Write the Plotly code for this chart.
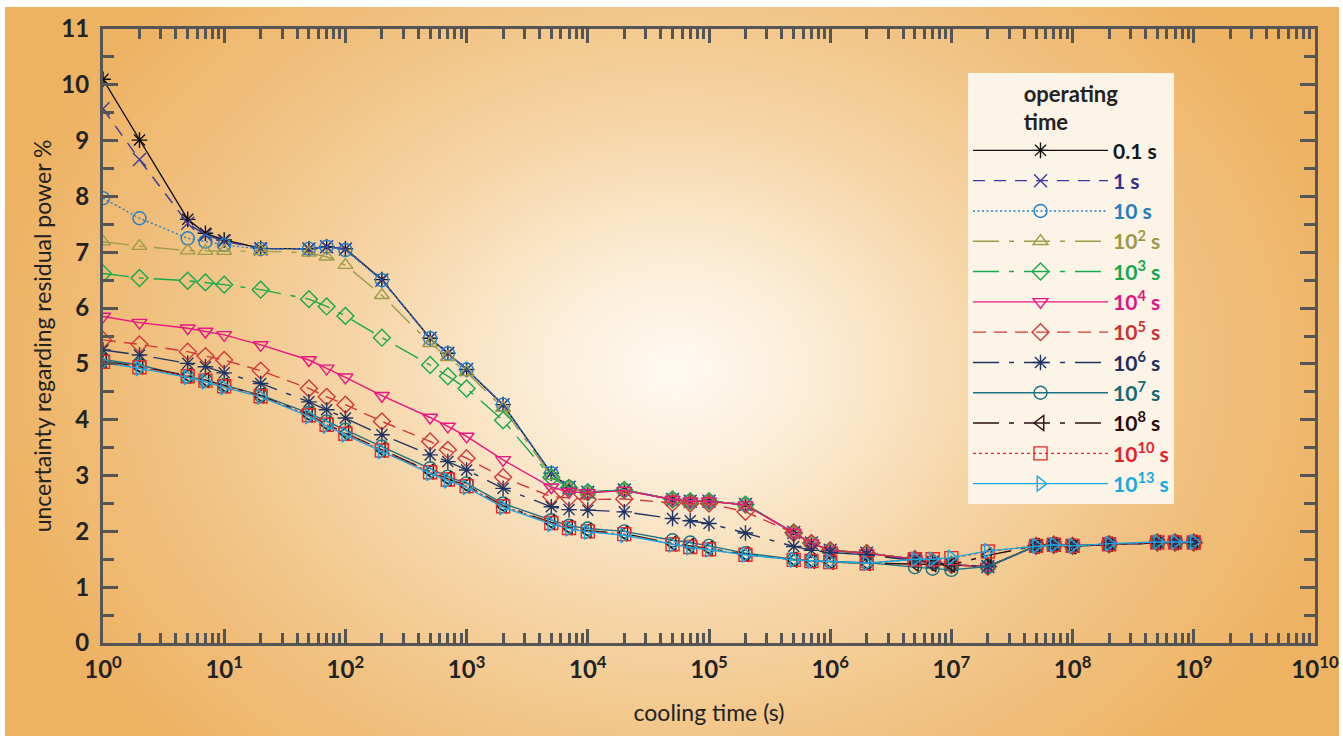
import base64
import plotly.graph_objects as go

cooling_time = [1, 2, 5, 7, 10, 20, 50, 70, 100, 200, 500, 700, 1e3, 2e3, 5e3, 7e3,
                1e4, 2e4, 5e4, 7e4, 1e5, 2e5, 5e5, 7e5, 1e6, 2e6, 5e6, 7e6, 1e7, 2e7,
                5e7, 7e7, 1e8, 2e8, 5e8, 7e8, 1e9]

op_0p1s = [10.10, 9.01, 7.59, 7.34, 7.22, 7.07, 7.06, 7.10, 7.06, 6.51, 5.46, 5.19, 4.90, 4.27, 3.04, 2.79,
           2.70, 2.74, 2.57, 2.54, 2.54, 2.48, 1.98, 1.79, 1.66, 1.61, 1.50, 1.45, 1.40, 1.37,
           1.74, 1.76, 1.74, 1.77, 1.80, 1.80, 1.80]
op_1s = [9.57, 8.66, 7.52, 7.31, 7.20, 7.06, 7.06, 7.10, 7.06, 6.50, 5.46, 5.19, 4.90, 4.27, 3.04, 2.79,
         2.70, 2.74, 2.57, 2.54, 2.54, 2.48, 1.98, 1.79, 1.66, 1.61, 1.50, 1.45, 1.40, 1.37,
         1.74, 1.76, 1.74, 1.77, 1.80, 1.80, 1.80]
op_10s = [7.97, 7.61, 7.25, 7.19, 7.13, 7.06, 7.06, 7.10, 7.04, 6.50, 5.46, 5.19, 4.90, 4.27, 3.04, 2.79,
          2.70, 2.74, 2.57, 2.54, 2.54, 2.48, 1.98, 1.79, 1.66, 1.61, 1.50, 1.45, 1.40, 1.37,
          1.74, 1.76, 1.74, 1.77, 1.80, 1.80, 1.80]
op_1e2s = [7.19, 7.11, 7.03, 7.02, 7.02, 7.02, 6.99, 6.92, 6.77, 6.23, 5.37, 5.12, 4.85, 4.21, 2.99, 2.78,
           2.70, 2.74, 2.57, 2.54, 2.54, 2.48, 1.98, 1.79, 1.66, 1.61, 1.50, 1.45, 1.40, 1.37,
           1.74, 1.76, 1.74, 1.77, 1.80, 1.80, 1.80]
op_1e3s = [6.62, 6.54, 6.49, 6.46, 6.42, 6.33, 6.16, 6.03, 5.86, 5.47, 4.98, 4.78, 4.56, 3.99, 2.97, 2.78,
           2.70, 2.74, 2.57, 2.54, 2.54, 2.48, 1.98, 1.79, 1.66, 1.61, 1.50, 1.45, 1.40, 1.37,
           1.74, 1.76, 1.74, 1.77, 1.80, 1.80, 1.80]
op_1e4s = [5.85, 5.74, 5.64, 5.58, 5.52, 5.34, 5.07, 4.92, 4.76, 4.43, 4.04, 3.88, 3.70, 3.28, 2.79, 2.71,
           2.69, 2.73, 2.57, 2.54, 2.54, 2.47, 1.98, 1.79, 1.66, 1.61, 1.50, 1.45, 1.40, 1.37,
           1.74, 1.76, 1.74, 1.77, 1.80, 1.80, 1.80]
op_1e5s = [5.43, 5.35, 5.22, 5.14, 5.07, 4.88, 4.56, 4.41, 4.27, 3.97, 3.61, 3.46, 3.31, 2.97, 2.62, 2.60,
           2.57, 2.58, 2.51, 2.50, 2.50, 2.35, 1.97, 1.79, 1.66, 1.61, 1.50, 1.45, 1.40, 1.37,
           1.74, 1.76, 1.74, 1.77, 1.80, 1.80, 1.80]
op_1e6s = [5.25, 5.16, 5.01, 4.95, 4.84, 4.65, 4.32, 4.18, 4.03, 3.73, 3.37, 3.25, 3.10, 2.77, 2.44, 2.39,
           2.38, 2.35, 2.23, 2.19, 2.14, 1.97, 1.73, 1.66, 1.62, 1.58, 1.48, 1.44, 1.40, 1.37,
           1.74, 1.76, 1.74, 1.77, 1.80, 1.80, 1.80]
op_1e7s = [5.08, 4.98, 4.77, 4.71, 4.62, 4.44, 4.12, 3.97, 3.82, 3.52, 3.13, 2.98, 2.86, 2.50, 2.20, 2.10,
           2.05, 2.00, 1.84, 1.80, 1.74, 1.61, 1.50, 1.47, 1.46, 1.44, 1.36, 1.33, 1.31, 1.37,
           1.74, 1.76, 1.73, 1.77, 1.80, 1.80, 1.80]
op_1e8s = [5.05, 4.95, 4.79, 4.71, 4.61, 4.43, 4.09, 3.92, 3.76, 3.46, 3.07, 2.94, 2.82, 2.46, 2.16, 2.07,
           2.01, 1.96, 1.78, 1.74, 1.69, 1.59, 1.49, 1.47, 1.45, 1.43, 1.42, 1.41, 1.40, 1.57,
           1.74, 1.76, 1.73, 1.77, 1.80, 1.80, 1.80]
op_1e10s = [5.04, 4.94, 4.78, 4.70, 4.60, 4.42, 4.08, 3.91, 3.75, 3.45, 3.06, 2.93, 2.81, 2.45, 2.15, 2.06,
            2.00, 1.95, 1.77, 1.72, 1.68, 1.58, 1.49, 1.47, 1.45, 1.43, 1.50, 1.50, 1.52, 1.64,
            1.74, 1.76, 1.74, 1.77, 1.80, 1.80, 1.80]
op_1e13s = [5.02, 4.92, 4.76, 4.68, 4.58, 4.41, 4.06, 3.89, 3.73, 3.43, 3.04, 2.91, 2.79, 2.43, 2.13, 2.05,
            1.99, 1.93, 1.76, 1.71, 1.67, 1.58, 1.49, 1.47, 1.46, 1.43, 1.50, 1.50, 1.53, 1.65,
            1.74, 1.76, 1.74, 1.78, 1.81, 1.81, 1.81]

series_names = ["0.1 s", "1 s", "10 s", "10<sup>2</sup> s", "10<sup>3</sup> s", "10<sup>4</sup> s",
                "10<sup>5</sup> s", "10<sup>6</sup> s", "10<sup>7</sup> s", "10<sup>8</sup> s",
                "10<sup>10</sup> s", "10<sup>13</sup> s"]
series_values = [op_0p1s, op_1s, op_10s, op_1e2s, op_1e3s, op_1e4s, op_1e5s, op_1e6s,
                 op_1e7s, op_1e8s, op_1e10s, op_1e13s]

x_tick_vals = [10 ** k for k in range(11)]
x_tick_text = ["10<sup>%d</sup>" % k for k in range(11)]
y_tick_vals = list(range(12))

styles = [
    dict(color="#111111", text="#0d1a22", symbol="asterisk-open", dash="solid"),
    dict(color="#3b3b9e", text="#35338a", symbol="x-thin-open", dash="12px,9px"),
    dict(color="#1f80c8", text="#1f80c0", symbol="circle-open", dash="2px,2.5px"),
    dict(color="#9c9c4a", text="#9a9a44", symbol="triangle-up-open", dash="26px,10px,5px,10px"),
    dict(color="#16aa4c", text="#14a84c", symbol="diamond-open", dash="26px,10px,5px,10px"),
    dict(color="#ea1580", text="#e4127f", symbol="triangle-down-open", dash="solid"),
    dict(color="#d0393a", text="#cc3333", symbol="diamond-open", dash="13px,8px"),
    dict(color="#1e3566", text="#1e3060", symbol="asterisk-open", dash="26px,10px,5px,10px"),
    dict(color="#1a7282", text="#156a75", symbol="circle-open", dash="solid"),
    dict(color="#2a1010", text="#2a0a0a", symbol="triangle-left-open", dash="26px,10px,5px,10px"),
    dict(color="#e8282a", text="#e8202a", symbol="square-open", dash="3px,3px"),
    dict(color="#1aa8e2", text="#18a8e0", symbol="triangle-right-open", dash="solid"),
]

fig = go.Figure()
for name, vals, st in zip(series_names, series_values, styles):
    fig.add_trace(go.Scatter(
        x=cooling_time, y=vals, mode="lines+markers",
        name='<span style="color:%s">%s</span>' % (st["text"], name),
        line=dict(color=st["color"], width=1.4, dash=st["dash"]),
        marker=dict(symbol=st["symbol"], size=13, color=st["color"],
                    line=dict(color=st["color"], width=1.4)),
    ))

# background radial gradient as an SVG image
W, H = 1343, 736
svg = f"""<svg xmlns='http://www.w3.org/2000/svg' width='{W}' height='{H}' viewBox='0 0 {W} {H}' preserveAspectRatio='none'>
<defs><radialGradient id='g' gradientUnits='userSpaceOnUse' cx='675' cy='370' r='700'
 gradientTransform='translate(675,370) scale(1,0.78) translate(-675,-370)'>
<stop offset='0' stop-color='#fffaf3'/>
<stop offset='0.22' stop-color='#fbebd3'/>
<stop offset='0.45' stop-color='#f6d6a8'/>
<stop offset='0.72' stop-color='#f1c282'/>
<stop offset='1' stop-color='#edb262'/>
</radialGradient></defs>
<rect x='0' y='0' width='{W}' height='{H}' fill='#ffffff'/>
<rect x='5' y='7' width='1334' height='729' fill='url(#g)'/>
</svg>"""
src = "data:image/svg+xml;base64," + base64.b64encode(svg.encode()).decode()

L, R, T, B = 103, 1315, 29, 643
pw, ph = R - L, B - T

fig.add_layout_image(dict(
    source=src, xref="paper", yref="paper",
    x=-L / pw, y=1 + T / ph, sizex=W / pw, sizey=H / ph,
    xanchor="left", yanchor="top", sizing="stretch", layer="below",
))

axis_col = "#555555"
fig.update_layout(
    width=W, height=H,
    margin=dict(l=L, r=W - R, t=T, b=H - B, autoexpand=False),
    paper_bgcolor="#ffffff",
    plot_bgcolor="rgba(0,0,0,0)",
    showlegend=True,
    legend=dict(
        x=(968 - L) / pw, y=(B - 73) / ph, xanchor="left", yanchor="top",
        bgcolor="#fdf4e8", borderwidth=0,
        font=dict(family="Lato", size=21, color="#222222", weight="bold"),
        title=dict(text="operating<br>time", side="top center",
                   font=dict(family="Lato", size=22, color="#222222", weight="bold")),
        itemwidth=135, tracegroupgap=0,
    ),
    xaxis=dict(
        type="log", range=[0, 10], automargin=False,
        tickvals=x_tick_vals, ticktext=x_tick_text,
        ticks="inside", ticklen=14, tickwidth=2.5, tickcolor=axis_col,
        minor=dict(ticks="inside", ticklen=10, tickwidth=2.5, tickcolor=axis_col, dtick="D1", showgrid=False),
        showline=True, linewidth=3, linecolor=axis_col, mirror="ticks",
        showgrid=False, zeroline=False, ticklabelstandoff=3,
        tickfont=dict(family="Lato", size=24, color="#222222", weight="bold"),
        title=dict(text="cooling time (s)", standoff=24,
                   font=dict(family="Lato", size=23, color="#222222")),
    ),
    yaxis=dict(
        range=[0, 11], tickvals=y_tick_vals, automargin=False,
        ticks="inside", ticklen=15, tickwidth=2.5, tickcolor=axis_col,
        minor=dict(ticks="inside", ticklen=11, tickwidth=2.5, tickcolor=axis_col, dtick=0.5, showgrid=False),
        showline=True, linewidth=3, linecolor=axis_col, mirror="ticks",
        showgrid=False, zeroline=False, ticklabelstandoff=6,
        tickfont=dict(family="Lato", size=24, color="#222222", weight="bold"),
        title=dict(text="uncertainty regarding residual power %", standoff=4,
                   font=dict(family="Lato", size=23, color="#222222")),
    ),
)

fig.write_html("out.html", config={"displayModeBar": False},
               post_script="document.body.style.margin='0';")
